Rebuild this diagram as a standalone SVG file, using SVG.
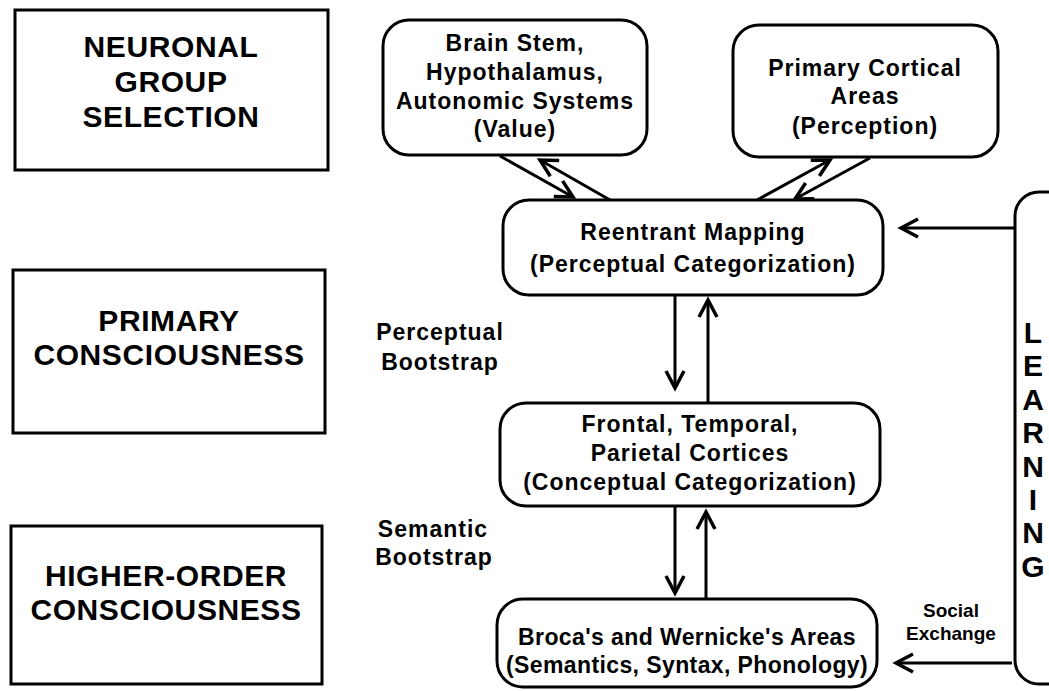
<svg xmlns="http://www.w3.org/2000/svg" width="1049" height="691" viewBox="0 0 1049 691">
<style>
.box{fill:#fff;stroke:#000;stroke-width:3}
.big{font-family:"Liberation Sans",Arial,sans-serif;font-weight:bold;font-size:30px;letter-spacing:0.6px;text-anchor:middle;fill:#000}
.node{font-family:"Liberation Sans",Arial,sans-serif;font-weight:bold;font-size:23px;letter-spacing:1px;text-anchor:middle;fill:#000}
.tight{letter-spacing:0.4px}
.small{font-family:"Liberation Sans",Arial,sans-serif;font-weight:bold;font-size:19px;text-anchor:middle;fill:#000}
.learn{font-family:"Liberation Sans",Arial,sans-serif;font-weight:bold;font-size:30px;text-anchor:middle;fill:#000}
.conn{stroke:#000;stroke-width:3;fill:none}
</style>
<defs>
<marker id="arr" markerUnits="userSpaceOnUse" markerWidth="30" markerHeight="30" refX="20" refY="12" orient="auto">
<path d="M3,3 L20,12 L3,21" fill="none" stroke="#000" stroke-width="3.5" stroke-linejoin="miter"/>
</marker>
</defs>
<rect width="1049" height="691" fill="#fff"/>

<g id="neuronal-group-selection">
<rect class="box" x="15" y="10" width="313" height="160"/>
<text class="big" x="171" y="57">NEURONAL</text>
<text class="big" x="171" y="92">GROUP</text>
<text class="big" x="171" y="127">SELECTION</text>
</g>
<g id="primary-consciousness">
<rect class="box" x="13" y="270" width="312" height="163"/>
<text class="big" x="169" y="331">PRIMARY</text>
<text class="big" x="169" y="365">CONSCIOUSNESS</text>
</g>
<g id="higher-order-consciousness">
<rect class="box" x="11" y="526" width="311" height="158"/>
<text class="big" x="166" y="586">HIGHER-ORDER</text>
<text class="big" x="166" y="620">CONSCIOUSNESS</text>
</g>

<g id="brain-stem">
<rect class="box" x="383" y="20" width="264" height="135" rx="26"/>
<text class="node" x="515" y="51">Brain Stem,</text>
<text class="node" x="515" y="80">Hypothalamus,</text>
<text class="node" x="515" y="109">Autonomic Systems</text>
<text class="node" x="515" y="137">(Value)</text>
</g>
<g id="primary-cortical-areas">
<rect class="box" x="733" y="25" width="265" height="132" rx="26"/>
<text class="node" x="865" y="76">Primary Cortical</text>
<text class="node" x="865" y="104">Areas</text>
<text class="node" x="865" y="134">(Perception)</text>
</g>
<g id="reentrant-mapping">
<rect class="box" x="503" y="200" width="380" height="95" rx="26"/>
<text class="node" x="693" y="240">Reentrant Mapping</text>
<text class="node" x="693" y="272">(Perceptual Categorization)</text>
</g>
<g id="frontal-temporal-parietal">
<rect class="box" x="500" y="403" width="380" height="103" rx="26"/>
<text class="node" x="690" y="432">Frontal, Temporal,</text>
<text class="node" x="690" y="461">Parietal Cortices</text>
<text class="node" x="690" y="490">(Conceptual Categorization)</text>
</g>
<g id="broca-wernicke">
<rect class="box" x="497" y="599" width="380" height="88" rx="26"/>
<text class="node tight" x="687" y="645">Broca's and Wernicke's Areas</text>
<text class="node tight" x="687" y="673">(Semantics, Syntax, Phonology)</text>
</g>
<g id="learning">
<rect class="box" x="1015" y="192" width="90" height="492" rx="24"/>
<text class="learn" x="1033" y="343">L</text>
<text class="learn" x="1033" y="376">E</text>
<text class="learn" x="1033" y="410">A</text>
<text class="learn" x="1033" y="443">R</text>
<text class="learn" x="1033" y="477">N</text>
<text class="learn" x="1033" y="510">I</text>
<text class="learn" x="1033" y="543">N</text>
<text class="learn" x="1033" y="577">G</text>
</g>

<g id="labels">
<text class="node" x="440" y="340">Perceptual</text>
<text class="node" x="440" y="370">Bootstrap</text>
<text class="node" x="433" y="537">Semantic</text>
<text class="node" x="434" y="565">Bootstrap</text>
<text class="small" x="951" y="617">Social</text>
<text class="small" x="951" y="640">Exchange</text>
</g>

<g id="connectors">
<line class="conn" x1="500" y1="156" x2="573" y2="197" marker-end="url(#arr)"/>
<line class="conn" x1="610" y1="200" x2="540" y2="160" marker-end="url(#arr)"/>
<line class="conn" x1="757" y1="200" x2="830" y2="160" marker-end="url(#arr)"/>
<line class="conn" x1="870" y1="158" x2="795" y2="199" marker-end="url(#arr)"/>
<line class="conn" x1="675" y1="296" x2="675" y2="388" marker-end="url(#arr)"/>
<line class="conn" x1="708" y1="403" x2="708" y2="300" marker-end="url(#arr)"/>
<line class="conn" x1="675" y1="507" x2="675" y2="593" marker-end="url(#arr)"/>
<line class="conn" x1="706" y1="599" x2="706" y2="512" marker-end="url(#arr)"/>
<line class="conn" x1="1015" y1="228" x2="901" y2="228" marker-end="url(#arr)"/>
<line class="conn" x1="1012" y1="663" x2="896" y2="663" marker-end="url(#arr)"/>
</g>
</svg>
